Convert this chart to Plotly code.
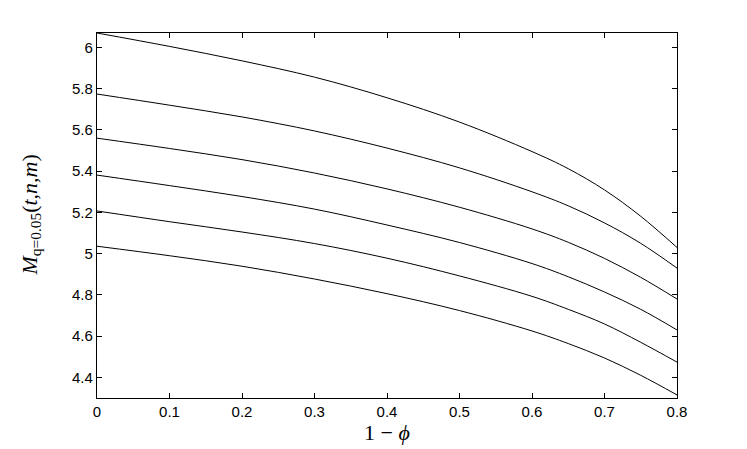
import plotly.graph_objects as go

# abscissa 1 - phi
x = [0, 0.1, 0.2, 0.3, 0.4, 0.5, 0.6, 0.65, 0.7, 0.75, 0.8]

# M_q=0.05(t,n,m) curves, top to bottom
m1 = [6.07, 6.005, 5.935, 5.856, 5.756, 5.638, 5.495, 5.412, 5.309, 5.181, 5.03]
m2 = [5.774, 5.72, 5.663, 5.595, 5.512, 5.416, 5.300, 5.232, 5.149, 5.05, 4.93]
m3 = [5.56, 5.51, 5.456, 5.391, 5.314, 5.225, 5.120, 5.055, 4.977, 4.885, 4.78]
m4 = [5.381, 5.33, 5.277, 5.216, 5.139, 5.054, 4.952, 4.888, 4.814, 4.73, 4.63]
m5 = [5.207, 5.155, 5.105, 5.049, 4.978, 4.892, 4.793, 4.73, 4.659, 4.57, 4.474]
m6 = [5.036, 4.99, 4.939, 4.877, 4.806, 4.724, 4.625, 4.564, 4.494, 4.41, 4.315]

fig = go.Figure()
for ys in [m1, m2, m3, m4, m5, m6]:
    fig.add_trace(go.Scatter(x=x, y=ys, mode="lines",
                             line=dict(color="black", width=1, shape="spline", smoothing=1),
                             showlegend=False, hoverinfo="skip"))

axis_style = dict(
    showgrid=False, zeroline=False, showline=True, linecolor="black", linewidth=1.2,
    mirror="ticks", ticks="inside", ticklen=5, tickwidth=1, tickcolor="black",
    automargin=False,
    tickfont=dict(family="Liberation Sans, Arial", size=15, color="black"),
)

fig.update_xaxes(range=[0, 0.8], dtick=0.1, tick0=0, **axis_style)
fig.update_yaxes(range=[4.3, 6.07], dtick=0.2, tick0=4.4, **axis_style)

title_font = dict(family="Liberation Serif", size=22, color="black")

# axis titles as annotations so their positions can be set exactly
fig.add_annotation(text="1 − <i>ϕ</i>", xref="paper", yref="paper", x=0.5, y=0,
                   xanchor="center", yanchor="top", yshift=-20, showarrow=False,
                   font=title_font)
fig.add_annotation(text="<i>M</i><sub>q=0.05</sub>(<i>t,n,m</i>)", xref="paper", yref="paper",
                   x=0, y=0.5, xanchor="center", yanchor="middle", xshift=-67,
                   textangle=-90, showarrow=False, font=title_font)

# page body adds an 8px margin, so the figure is sized to fit inside the window
fig.update_layout(
    width=739, height=441,
    margin=dict(l=89, r=70, t=25, b=51),
    paper_bgcolor="white", plot_bgcolor="white",
)

fig.write_html("out.html")
